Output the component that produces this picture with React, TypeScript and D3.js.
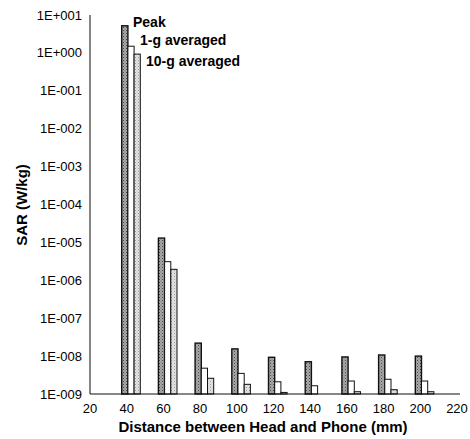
import React from 'react';
import * as d3 from 'd3';

// distance between head and phone (mm)
const distances = [40, 60, 80, 100, 120, 140, 160, 180, 200];
// SAR values (W/kg)
const peak = [5.2, 1.3e-5, 2.2e-8, 1.55e-8, 9.3e-9, 7.1e-9, 9.5e-9, 1.07e-8, 1.0e-8];
const avg1g = [1.5, 3.1e-6, 4.8e-9, 3.5e-9, 2.1e-9, 1.65e-9, 2.2e-9, 2.45e-9, 2.2e-9];
const avg10g = [0.93, 1.95e-6, 2.6e-9, 1.8e-9, 1.1e-9, 1.0e-9, 1.15e-9, 1.3e-9, 1.15e-9];
const xTicks = [20, 40, 60, 80, 100, 120, 140, 160, 180, 200, 220];
const yTicks = [1e1, 1e0, 1e-1, 1e-2, 1e-3, 1e-4, 1e-5, 1e-6, 1e-7, 1e-8, 1e-9];
const seriesNames = ['Peak', '1-g averaged', '10-g averaged'];

const font = 'Liberation Sans, Arial, Helvetica, sans-serif';

function sciLabel(v: number) {
  const e = Math.round(Math.log10(v));
  return '1E' + (e >= 0 ? '+' : '-') + String(Math.abs(e)).padStart(3, '0');
}

export default function App() {
  const width = 470, height = 439;
  const x = d3.scaleLinear().domain([20, 220]).range([90, 457]);
  const y = d3.scaleLog().domain([1e-9, 10]).range([394, 15]);
  const barW = 6.2;
  const series = [peak, avg1g, avg10g];
  const fills = ['url(#darkDots)', '#ffffff', 'url(#lightDots)'];

  return (
    <svg width={width} height={height} style={{ position: 'absolute', left: 0, top: 0, background: '#fff' }}>
      <defs>
        <pattern id="darkDots" width="3" height="3" patternUnits="userSpaceOnUse">
          <rect width="3" height="3" fill="#aaaaaa" />
          <rect x="0" y="0" width="1" height="1" fill="#444" />
          <rect x="1.5" y="1.5" width="1" height="1" fill="#666" />
        </pattern>
        <pattern id="lightDots" width="3" height="3" patternUnits="userSpaceOnUse">
          <rect width="3" height="3" fill="#e4e4e4" />
          <rect x="0" y="0" width="1" height="1" fill="#9a9a9a" />
          <rect x="1.5" y="1.5" width="1" height="1" fill="#b8b8b8" />
        </pattern>
      </defs>

      {/* bars */}
      {series.map((vals, si) => (
        <g key={si}>
          {distances.map((d, i) => {
            const v = vals[i];
            if (v <= 1e-9) return null;
            const bx = x(d) - 5 + si * barW;
            return (
              <rect key={d} x={bx} y={y(v)} width={barW} height={y(1e-9) - y(v)}
                fill={fills[si]} stroke="#111" strokeWidth={si === 0 ? 1.4 : 1} />
            );
          })}
        </g>
      ))}

      {/* axes */}
      <line x1={x(20)} x2={x(20)} y1={y(10)} y2={y(1e-9)} stroke="#333" strokeWidth={1.2} />
      <line x1={x(20)} x2={x(220) + 3} y1={y(1e-9)} y2={y(1e-9)} stroke="#111" strokeWidth={1.2} />

      {yTicks.map(t => (
        <text key={t} x={82} y={y(t)} dy="0.35em" textAnchor="end" fontFamily={font} fontSize={13}>{sciLabel(t)}</text>
      ))}
      {xTicks.map(t => (
        <text key={t} x={x(t)} y={413} textAnchor="middle" fontFamily={font} fontSize={13}>{t}</text>
      ))}

      {/* series labels */}
      <text x={133} y={27} fontFamily={font} fontSize={14} fontWeight="bold">{seriesNames[0]}</text>
      <text x={140} y={45} fontFamily={font} fontSize={14} fontWeight="bold">{seriesNames[1]}</text>
      <text x={146} y={66} fontFamily={font} fontSize={14} fontWeight="bold">{seriesNames[2]}</text>

      <text x={263} y={432} textAnchor="middle" fontFamily={font} fontSize={15} fontWeight="bold">Distance between Head and Phone (mm)</text>
      <text transform="translate(27,205) rotate(-90)" textAnchor="middle" fontFamily={font} fontSize={15} fontWeight="bold">SAR (W/kg)</text>
    </svg>
  );
}
